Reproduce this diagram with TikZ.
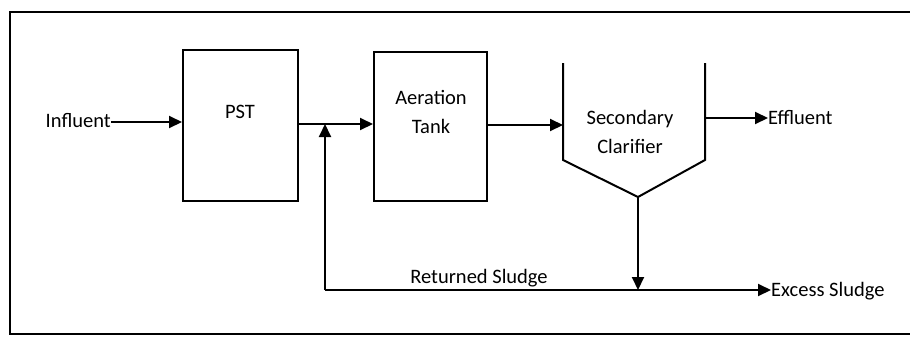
\documentclass[tikz,border=0pt]{standalone}
\usepackage{fontspec}
\setmainfont{Carlito}
\usetikzlibrary{arrows.meta}
\begin{document}
\begin{tikzpicture}[x=1pt,y=-1pt,
  lbl/.style={font=\fontsize{20.5}{29}\selectfont, inner sep=0pt, align=center},
  unit/.style={draw, line width=2pt, inner sep=0pt},
  flow/.style={line width=2pt, -{Triangle[length=13pt,width=12pt]}},
  pipe/.style={line width=2pt}]
\useasboundingbox (0,0) rectangle (910,338);
% frame
\draw[line width=2.2pt] (930,12) -- (10,12) -- (10,334) -- (930,334);
% units
\node[unit, minimum width=115pt, minimum height=151pt] (pst) at (240.5,125.5) {};
\node[lbl] (pstl) at (240,112) {PST};
\node[unit, minimum width=113pt, minimum height=149pt] (aer) at (430.5,126.5) {};
\node[lbl] (aerl) at (431,112) {Aeration\\Tank};
\coordinate (cl1) at (563,63);
\coordinate (cl2) at (563,160);
\coordinate (apex) at (638,197);
\coordinate (cl4) at (705,160);
\coordinate (cl5) at (705,63);
\draw[pipe, line join=miter] (cl1) -- (cl2) -- (apex) -- (cl4) -- (cl5);
\node[lbl] (sec) at (630,131.5) {Secondary\\Clarifier};
% labels
\node[lbl, anchor=east] (inf) at (111,121) {Influent};
\node[lbl, anchor=west] (eff) at (768,118) {Effluent};
\node[lbl, anchor=west] (exc) at (771,291) {Excess Sludge};
\node[lbl] (ret) at (479,278) {Returned Sludge};
% coordinates
\coordinate (j) at (325,124);
\coordinate (rs) at (325,290);
\coordinate (dr) at (638,290);
% connectors
\draw[flow] (inf.east |- 0,122) -- (pst.west |- 0,122);
\draw[pipe] (pst.east |- j) -- (j);
\draw[flow] (j) -- (aer.west |- j);
\draw[flow] (rs) -- (j);
\draw[pipe] (rs) -- (dr);
\draw[flow] (dr) -- (exc.west |- dr);
\draw[flow] (apex) -- (dr);
\draw[flow] (aer.east |- 0,125) -- (cl1 |- 0,125);
\draw[flow] (cl5 |- 0,118) -- (eff.west |- 0,118);
\end{tikzpicture}
\end{document}
